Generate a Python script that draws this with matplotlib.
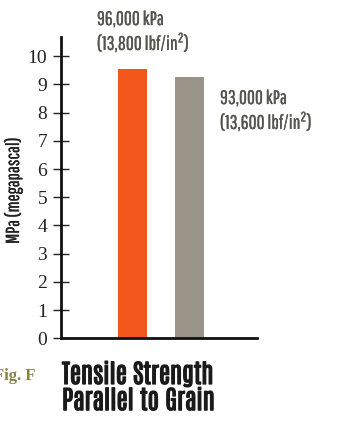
import matplotlib
matplotlib.use("Agg")
import matplotlib.pyplot as plt
import matplotlib.patheffects as pe
from matplotlib import font_manager

categories = ["Series A", "Series B"]
values = [9.55, 9.25]
bar_colors = ["#f2581b", "#9a9387"]
labels = ["96,000 kPa\n(13,800 lbf/in$^2$)", "93,000 kPa\n(13,600 lbf/in$^2$)"]
yticks = list(range(0, 11))
title = "Tensile Strength\nParallel to Grain"
fig_label = "Fig. F"
ylabel = "MPa (megapascal)"

names = {f.name for f in font_manager.fontManager.ttflist}


def pick(cands):
    for c in cands:
        if c in names:
            return c
    return "DejaVu Sans"


thin = pick(["Pathway Gothic One", "Antonio", "Saira Extra Condensed", "Roboto Condensed", "DejaVu Sans"])
bold = pick(["Antonio", "Saira Extra Condensed", "Oswald", "Fjalla One", "Roboto Condensed", "DejaVu Sans"])
serif = "Liberation Serif"

plt.rcParams["mathtext.fontset"] = "custom"
plt.rcParams["mathtext.rm"] = thin

W, H = 339, 436
fig = plt.figure(figsize=(W / 100, H / 100), dpi=100)
x0, x1 = 61, 257
ytop, ybot = 37, 338.3
ax = fig.add_axes([x0 / W, 1 - ybot / H, (x1 - x0) / W, (ybot - ytop) / H])

xs = [0, 1]
ax.bar(xs, values, width=0.51, color=bar_colors, zorder=2)
ax.set_xlim(-1.265, 2.20)
ax.set_ylim(0, (ybot - ytop) / 28.2)

for s in ["top", "right"]:
    ax.spines[s].set_visible(False)
for s in ["left", "bottom"]:
    ax.spines[s].set_linewidth(2)
    ax.spines[s].set_color("#111111")
ax.set_xticks([])
ax.set_yticks(yticks)
ax.set_yticklabels([str(t) for t in yticks], fontfamily=serif, fontsize=14, color="#222222")
ax.tick_params(axis="y", direction="inout", length=12, width=1, pad=4, color="#222222")

yl = fig.text(13 / W, 1 - 191 / H, ylabel, fontfamily=thin, fontsize=13.5, color="#222222",
              rotation=90, ha="center", va="center")
yl.set_path_effects([pe.withStroke(linewidth=0.2, foreground="#222222")])

for lab, xv, yv, (px, py) in zip(labels, xs, values, [(97, 10), (220, 89)]):
    t = ax.annotate(lab, xy=(xv, yv), xycoords="data",
                    xytext=(px, H - py), textcoords="figure pixels",
                    fontfamily=thin, fontsize=14, color="#555550", ha="left", va="top",
                    linespacing=1.1)
    t.set_path_effects([pe.withStroke(linewidth=0.2, foreground="#555550")])

tt = fig.text(62 / W, 1 - 361 / H, title, fontfamily=bold,
              fontweight="bold", fontsize=18.5, color="#1a1a1a", ha="left", va="top", linespacing=1.05)
tt.set_path_effects([pe.withStroke(linewidth=0.9, foreground="#1a1a1a")])
fig.text(36 / W, 1 - 376 / H, fig_label, fontfamily=serif, fontweight="bold", fontsize=12,
         color="#85833f", ha="right", va="center")

fig.savefig("out.png", dpi=100)
